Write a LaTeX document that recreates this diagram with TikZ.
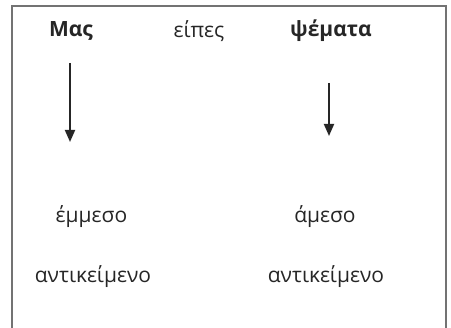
\documentclass[tikz,border=0pt]{standalone}
\usepackage{fontspec}
\setmainfont{Open Sans}
\usetikzlibrary{arrows.meta}
\begin{document}
\begin{tikzpicture}[x=1pt,y=-1pt,
  txt/.style={inner sep=0pt,text=black!85,font=\fontsize{21}{24}\selectfont},
  btxt/.style={txt,font=\fontsize{21}{24}\selectfont\bfseries},
  arr/.style={line width=1.8pt,draw=black!85,-{Triangle[width=10pt,length=12pt]}}]
\useasboundingbox (0,0) rectangle (451,328);
\draw[line width=2pt,draw=black!55] (12,331) -- (12,6) -- (446,6) -- (446,331);
\node[btxt] (mas) at (71,31) {Μας};
\node[txt] (eipes) at (199,31) {είπες};
\node[btxt] (psemata) at (331,31) {ψέματα};
\node[txt] (emmeso) at (91.5,217) {έμμεσο};
\node[txt] (ameso) at (325,217) {άμεσο};
\node[txt] (ant1) at (93,277) {αντικείμενο};
\node[txt] (ant2) at (326,277) {αντικείμενο};
\coordinate (a1s) at (70,63);
\coordinate (a1e) at (70,142);
\coordinate (a2s) at (329,83);
\coordinate (a2e) at (329,136);
\draw[arr] (a1s) -- (a1e);
\draw[arr] (a2s) -- (a2e);
\end{tikzpicture}
\end{document}
